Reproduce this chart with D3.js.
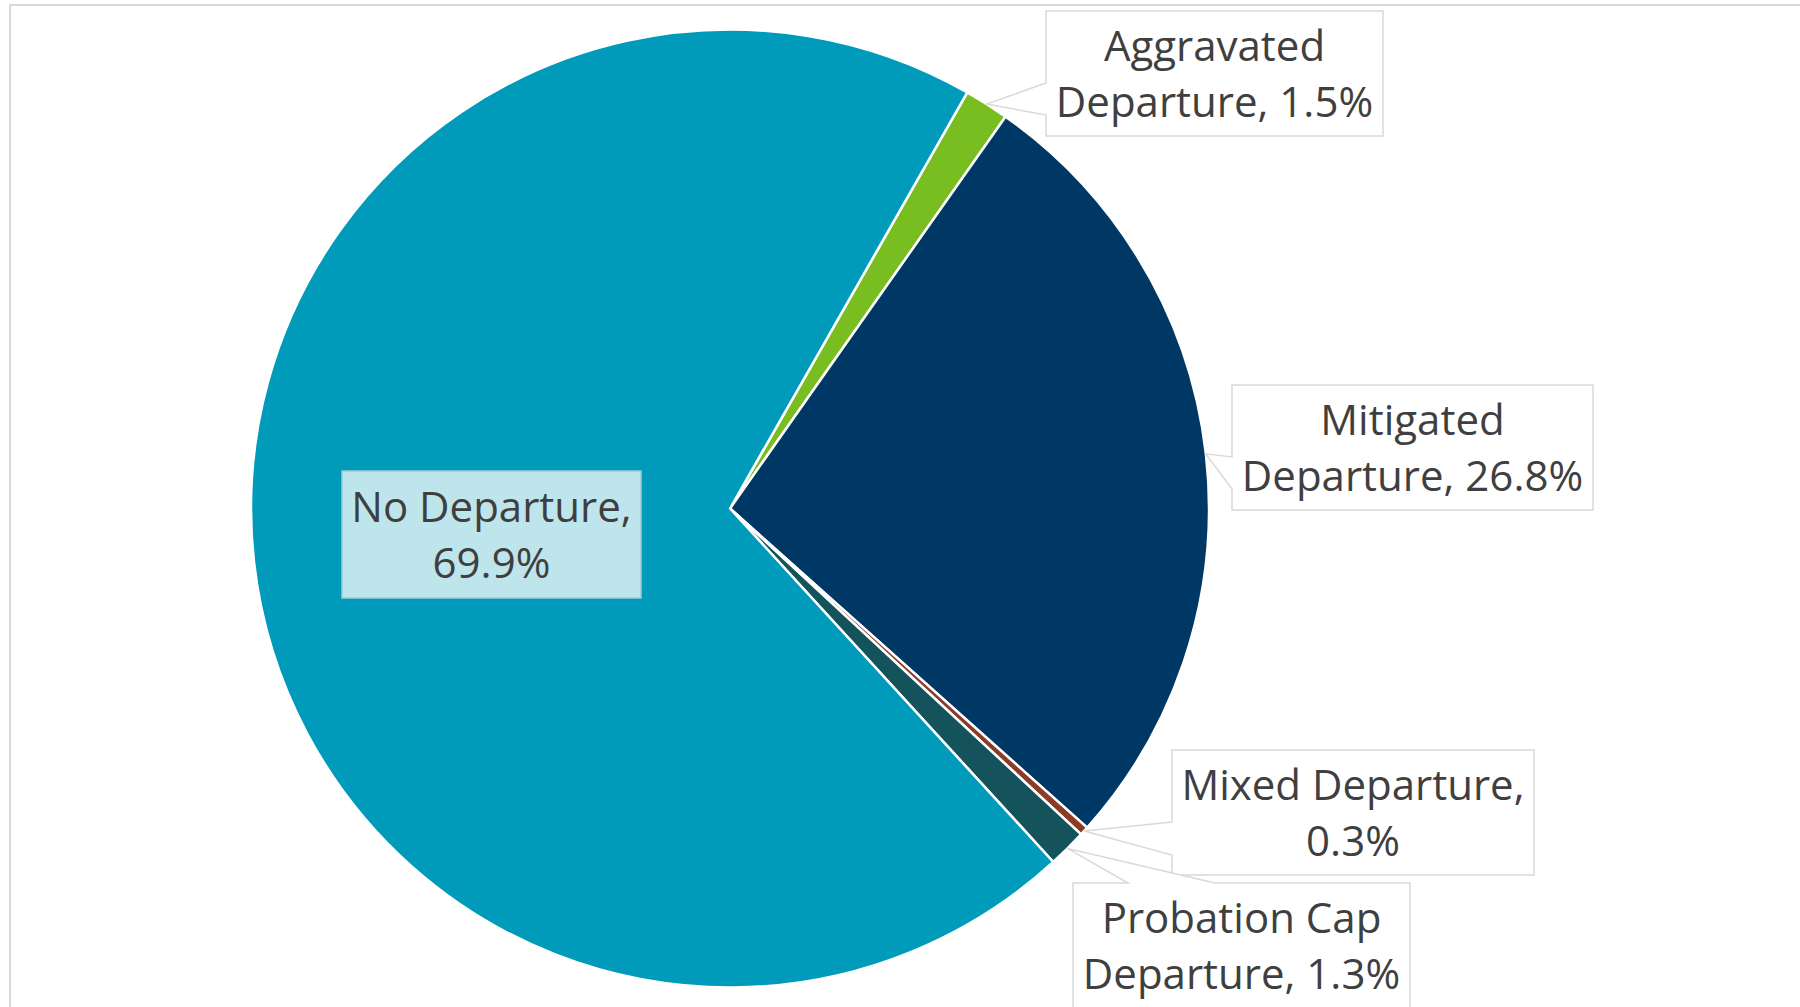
<!DOCTYPE html>
<html>
<head>
<meta charset="utf-8">
<script src="https://cdn.jsdelivr.net/npm/d3@7"></script>
<style>
  html, body { margin: 0; padding: 0; background: #fff; overflow: hidden; }
  .lbl { font-family: 'Open Sans', sans-serif; font-size: 42px; fill: #3F3F3F; }
</style>
</head>
<body>
<div id="chart"></div>
<script>
// chart data
const categories = ['Aggravated Departure', 'Mitigated Departure', 'Mixed Departure', 'Probation Cap Departure', 'No Departure'];
const shares = [1.5, 26.8, 0.3, 1.3, 69.9];
const labelLines = [
  ['Aggravated', 'Departure, 1.5%'],
  ['Mitigated', 'Departure, 26.8%'],
  ['Mixed Departure,', '0.3%'],
  ['Probation Cap', 'Departure, 1.3%'],
  ['No Departure,', '69.9%']
];

// styles / layout
const sliceColors = ['#78BE20', '#003865', '#8C3B26', '#14525C', '#009BBB'];
const width = 1800;
const height = 1007;
const cx = 730, cy = 508.5, radius = 479;
const startDeg = 29.7;

// callout boxes (x, y, w, h) and where the pointer leaves the box
const boxes = [
  {x: 1046, y: 11,  w: 337, h: 125, side: 'left', b0: 72, b1: 104},
  {x: 1232, y: 385, w: 361, h: 125, side: 'left', b0: 72, b1: 104},
  {x: 1172, y: 750, w: 362, h: 125, side: 'left', b0: 72, b1: 105},
  {x: 1073, y: 883, w: 337, h: 125, side: 'top',  b0: 55, b1: 142},
  {x: 342,  y: 471, w: 299, h: 127, side: 'none'}
];

const svg = d3.select('#chart')
  .append('svg')
  .attr('width', width)
  .attr('height', height);

// chart area border
svg.append('rect')
  .attr('x', 10).attr('y', 5)
  .attr('width', width + 20).attr('height', height + 20)
  .attr('fill', 'none')
  .attr('stroke', '#D9D9D9')
  .attr('stroke-width', 2);

const a0 = startDeg * Math.PI / 180;
const pie = d3.pie().sort(null).value(d => d)
  .startAngle(a0).endAngle(a0 + 2 * Math.PI);
const arcs = pie(shares);

const arc = d3.arc().innerRadius(0).outerRadius(radius);
const edgeArc = d3.arc().innerRadius(radius).outerRadius(radius);

const g = svg.append('g').attr('transform', `translate(${cx},${cy})`);

g.selectAll('path')
  .data(arcs)
  .enter()
  .append('path')
  .attr('d', arc)
  .attr('fill', (d, i) => sliceColors[i])
  .attr('stroke', '#fff')
  .attr('stroke-width', 2.5)
  .attr('stroke-linejoin', 'round');

// callout shapes
function calloutPath(b, tip) {
  const L = b.x, T = b.y, R = b.x + b.w, B = b.y + b.h;
  if (b.side === 'left') {
    return `M${L},${T}H${R}V${B}H${L}V${T + b.b1}L${tip[0]},${tip[1]}L${L},${T + b.b0}Z`;
  }
  if (b.side === 'top') {
    return `M${L},${T}H${L + b.b0}L${tip[0]},${tip[1]}L${L + b.b1},${T}H${R}V${B}H${L}Z`;
  }
  return `M${L},${T}H${R}V${B}H${L}Z`;
}

const labels = svg.append('g');

arcs.forEach(function(d, i) {
  const b = boxes[i];
  const c = edgeArc.centroid(d);
  const tip = [cx + c[0], cy + c[1]];
  const isInside = b.side === 'none';

  labels.append('path')
    .attr('d', calloutPath(b, tip))
    .attr('fill', isInside ? '#BFE5EC' : '#fff')
    .attr('stroke', isInside ? '#9CCBD6' : '#D9D9D9')
    .attr('stroke-width', 1.5)
    .attr('stroke-linejoin', 'miter');

  const t = labels.append('text')
    .attr('class', 'lbl')
    .attr('text-anchor', 'middle');

  labelLines[i].forEach(function(line, k) {
    t.append('tspan')
      .attr('x', b.x + b.w / 2)
      .attr('y', b.y + (isInside ? 51 : 50) + k * 56)
      .text(line);
  });
});
</script>
</body>
</html>
